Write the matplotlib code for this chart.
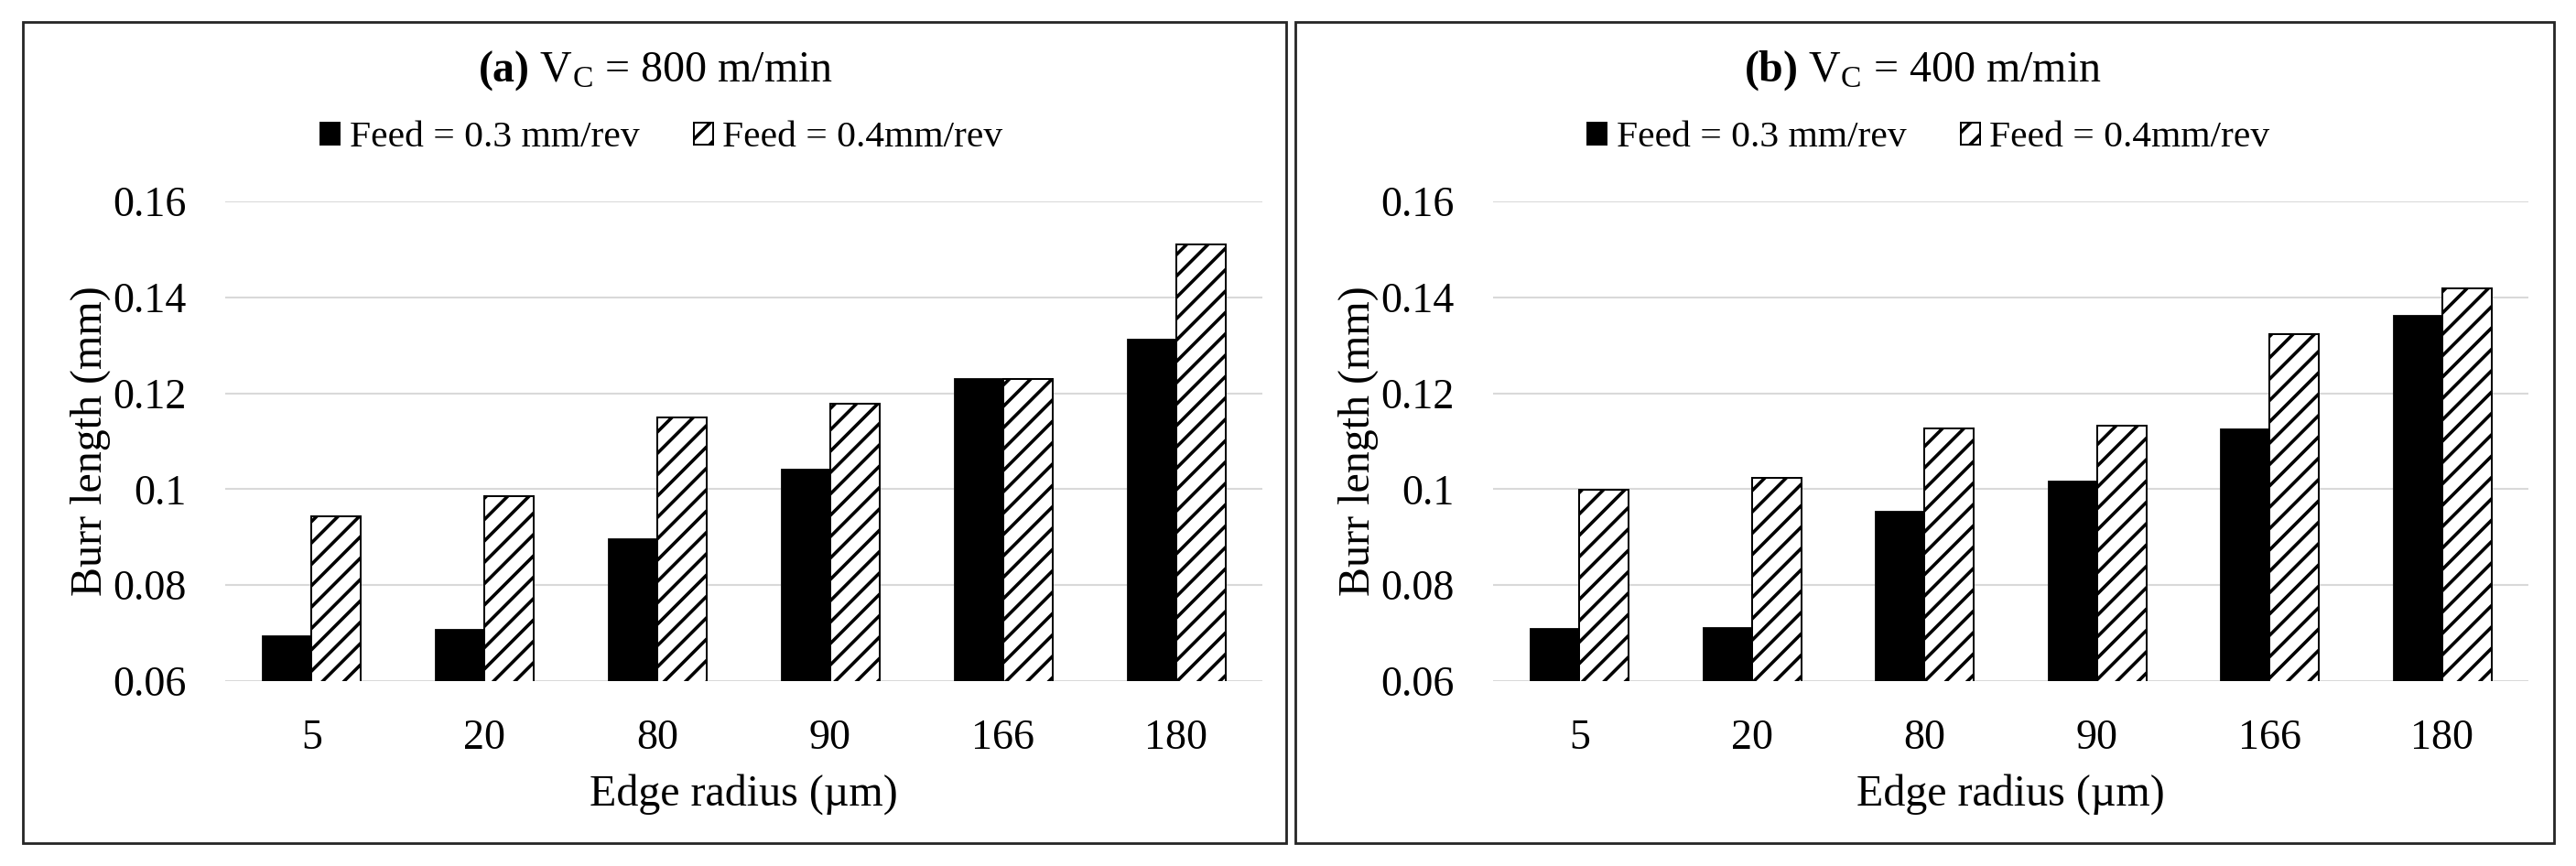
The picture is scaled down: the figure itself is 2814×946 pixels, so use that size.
import matplotlib
matplotlib.use("Agg")
import matplotlib.pyplot as plt
from matplotlib.patches import Rectangle, Patch
from matplotlib.ticker import FuncFormatter
import numpy as np

# data
edge_radius = ['5', '20', '80', '90', '166', '180']
series_names = ['Feed = 0.3 mm/rev', 'Feed = 0.4mm/rev']
titles = [r'$\mathbf{(a)}$ V$_\mathrm{C}$ = 800 m/min', r'$\mathbf{(b)}$ V$_\mathrm{C}$ = 400 m/min']
burr_800_f03 = [0.0696, 0.0708, 0.0897, 0.1043, 0.1231, 0.1314]
burr_800_f04 = [0.0943, 0.0986, 0.1150, 0.1179, 0.1229, 0.1510]
burr_400_f03 = [0.0710, 0.0713, 0.0955, 0.1018, 0.1127, 0.1363]
burr_400_f04 = [0.0998, 0.1024, 0.1127, 0.1132, 0.1323, 0.1418]
y_ticks = [0.06, 0.08, 0.10, 0.12, 0.14, 0.16]

# dpi chosen so the '//' hatch spacing matches the picture
W, H, DPI = 2814, 946, 140

def pt(px):
    # pixel size -> points at this dpi
    return px * 72 / DPI

plt.rcParams['font.family'] = ['Liberation Serif', 'DejaVu Serif']
plt.rcParams['mathtext.fontset'] = 'custom'
plt.rcParams['mathtext.rm'] = 'Liberation Serif'
plt.rcParams['mathtext.bf'] = 'Liberation Serif:bold'
plt.rcParams['mathtext.it'] = 'Liberation Serif:italic'
plt.rcParams['hatch.linewidth'] = pt(3.6)

fig = plt.figure(figsize=(W / DPI, H / DPI), dpi=DPI)

def fx(px):
    return px / W

def fy(py):
    return 1 - py / H

# pixel layout of each panel: box left/right, axes left/right, centre of title
panels = [
    dict(box=(25, 1405), ax=(246, 1379), mid=716, data=(burr_800_f03, burr_800_f04), title=titles[0]),
    dict(box=(1415, 2790), ax=(1631, 2762), mid=2100, data=(burr_400_f03, burr_400_f04), title=titles[1]),
]
ax_top, ax_bot = 220, 744
bar_w = 0.286
x = np.arange(len(edge_radius))

for p in panels:
    # outer frame of the panel
    b0, b1 = p['box']
    fig.patches.append(Rectangle((fx(b0), fy(921)), fx(b1) - fx(b0), (921 - 24) / H,
                                 transform=fig.transFigure, fill=False,
                                 edgecolor='#262626', linewidth=pt(2.8)))

    a0, a1 = p['ax']
    ax = fig.add_axes([fx(a0), fy(ax_bot), fx(a1) - fx(a0), (ax_bot - ax_top) / H])
    f03, f04 = p['data']
    ax.bar(x - bar_w / 2, f03, bar_w, color='black', edgecolor='#1a1a1a', linewidth=pt(1), zorder=3)
    ax.bar(x + bar_w / 2, f04, bar_w, color='white', edgecolor='black', hatch='//',
           linewidth=pt(2), zorder=3)

    ax.set_xlim(-0.5, len(edge_radius) - 0.5)
    ax.set_ylim(0.06, 0.16)
    ax.set_yticks(y_ticks)
    ax.yaxis.set_major_formatter(FuncFormatter(lambda v, pos: f"{round(v, 2):g}"))
    ax.set_xticks(x)
    ax.set_xticklabels(edge_radius)
    ax.grid(axis='y', color='#d9d9d9', linewidth=pt(2.1), zorder=0)
    ax.set_axisbelow(True)
    for s in ax.spines.values():
        s.set_visible(False)
    ax.tick_params(axis='both', length=0, labelsize=pt(46), colors='black')
    ax.tick_params(axis='y', pad=pt(42))
    ax.tick_params(axis='x', pad=pt(42))

    ax.set_ylabel('Burr length (mm)', fontsize=pt(48), va='center')
    ax.yaxis.set_label_coords(-0.13, 0.5)
    ax.set_xlabel('Edge radius (µm)', fontsize=pt(48), va='center')
    ax.xaxis.set_label_coords(0.5, -0.236)

    fig.text(fx(p['mid']), fy(77), p['title'], fontsize=pt(48), ha='center', va='center')

    handles = [Patch(facecolor='black', edgecolor='black'),
               Patch(facecolor='white', edgecolor='black', hatch='//', linewidth=pt(2))]
    fig.legend(handles, series_names, loc='center', ncol=2, frameon=False,
               bbox_to_anchor=(fx(p['mid'] + 7), fy(151)), fontsize=pt(41.5),
               handlelength=0.5, handleheight=0.5, handletextpad=0.25, columnspacing=1.45,
               borderpad=0, borderaxespad=0)

fig.savefig('out.png', dpi=DPI, facecolor='white')
